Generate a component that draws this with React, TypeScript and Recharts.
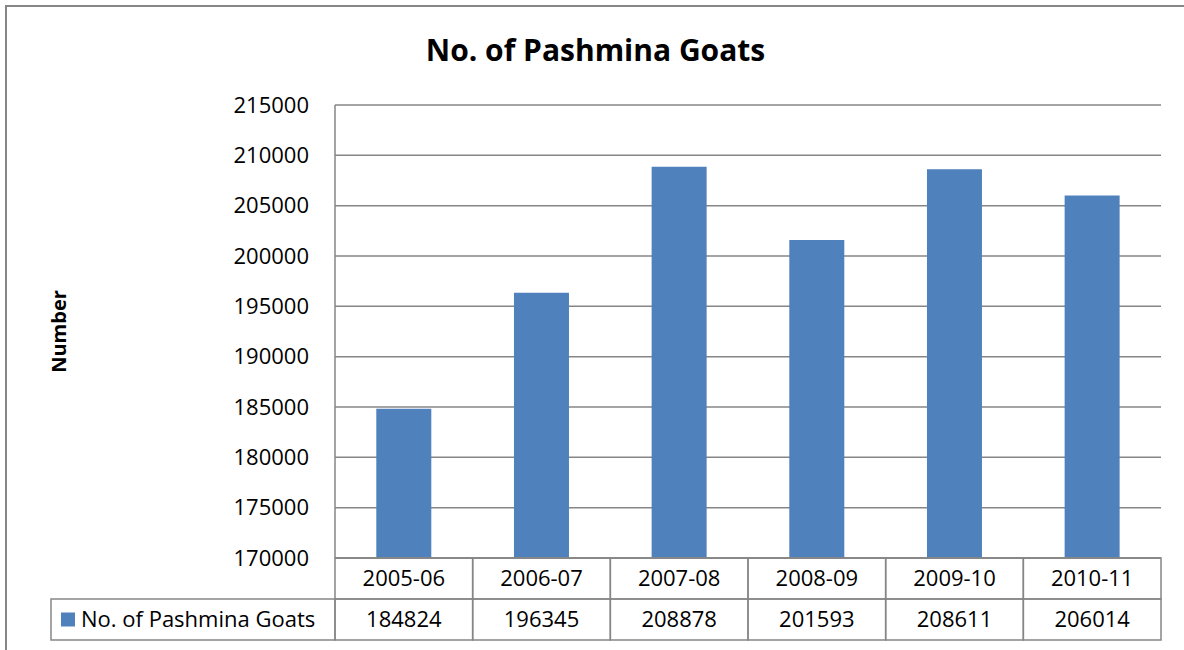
import React from "react";
import {
  BarChart,
  Bar,
  XAxis,
  YAxis,
  CartesianGrid,
} from "recharts";

const categories = ["2005-06", "2006-07", "2007-08", "2008-09", "2009-10", "2010-11"];
const goats = [184824, 196345, 208878, 201593, 208611, 206014];
const yTicks = [170000, 175000, 180000, 185000, 190000, 195000, 200000, 205000, 210000, 215000];
const seriesName = "No. of Pashmina Goats";
const chartTitle = "No. of Pashmina Goats";
const yLabel = "Number";

const data = categories.map((c, i) => ({ period: c, value: goats[i] }));

const FONT = "'Open Sans', 'Liberation Sans', sans-serif";
const BAR = "#4F81BD";
const LINE = "#868686";
const W = 1184;
const H = 650;
const PLOT_LEFT = 335;
const PLOT_RIGHT = 1161;
const ROW = 41;
const LEGEND_LEFT = 51;
const FS = 22;

const bandWidth = (PLOT_RIGHT - PLOT_LEFT) / categories.length;

function TableTick(props: any) {
  const { x, y, payload, index } = props;
  const left = x - bandWidth / 2;
  const value = goats[index];
  return (
    <g>
      <rect x={left} y={y} width={bandWidth} height={ROW} fill="none" stroke={LINE} strokeWidth={1.5} />
      <rect x={left} y={y + ROW} width={bandWidth} height={ROW} fill="none" stroke={LINE} strokeWidth={1.5} />
      <text x={x} y={y + ROW / 2} dy="0.35em" textAnchor="middle" fontSize={FS} fontFamily={FONT} fill="#000">
        {payload.value}
      </text>
      <text x={x} y={y + ROW * 1.5} dy="0.35em" textAnchor="middle" fontSize={FS} fontFamily={FONT} fill="#000">
        {value}
      </text>
      {index === 0 && (
        <g>
          <rect x={LEGEND_LEFT} y={y + ROW} width={left - LEGEND_LEFT} height={ROW} fill="none" stroke={LINE} strokeWidth={1.5} />
          <rect x={LEGEND_LEFT + 10} y={y + ROW * 1.5 - 7} width={14} height={14} fill={BAR} />
          <text x={LEGEND_LEFT + 30} y={y + ROW * 1.5} dy="0.35em" fontSize={FS} fontFamily={FONT} fill="#000">
            {seriesName}
          </text>
        </g>
      )}
    </g>
  );
}

function AxisTitle(props: any) {
  const { viewBox } = props;
  const cx = viewBox.x + 8;
  const cy = viewBox.y + viewBox.height / 2;
  return (
    <text
      x={cx}
      y={cy}
      textAnchor="middle"
      dominantBaseline="central"
      transform={`rotate(-90, ${cx}, ${cy})`}
      fontSize={20}
      fontWeight="bold"
      fontFamily={FONT}
      fill="#000"
    >
      {yLabel}
    </text>
  );
}

export default function App() {
  return (
    <div
      style={{
        position: "absolute",
        left: 0,
        top: 0,
        width: W,
        height: H,
        overflow: "hidden",
        background: "#fff",
      }}
    >
      <div
        style={{
          position: "absolute",
          left: 5,
          top: 5,
          width: W,
          height: H + 20,
          border: `2px solid ${LINE}`,
        }}
      />
      <div
        style={{
          position: "absolute",
          left: 0,
          top: 30,
          width: 1191,
          textAlign: "center",
          fontFamily: FONT,
          fontWeight: "bold",
          fontSize: 30,
          lineHeight: "40px",
          color: "#000",
        }}
      >
        {chartTitle}
      </div>
      <div style={{ position: "absolute", left: 0, top: 0 }}>
        <BarChart
          width={W}
          height={H}
          data={data}
          margin={{ top: 105, right: W - PLOT_RIGHT, bottom: 10, left: LEGEND_LEFT - 1 }}
          barCategoryGap="30%"
        >
          <CartesianGrid vertical={false} stroke={LINE} strokeWidth={1.5} />
          <XAxis
            dataKey="period"
            height={82}
            tickLine={false}
            tickSize={0}
            tickMargin={0}
            axisLine={{ stroke: LINE, strokeWidth: 1.5 }}
            tick={<TableTick />}
            interval={0}
          />
          <YAxis
            width={PLOT_LEFT - LEGEND_LEFT + 1}
            domain={[170000, 215000]}
            ticks={yTicks}
            tickLine={false}
            tickSize={0}
            tickMargin={26}
            axisLine={{ stroke: LINE, strokeWidth: 1.5 }}
            tick={{ fontSize: FS, fontFamily: FONT, fill: "#000" }}
            label={<AxisTitle />}
            allowDataOverflow
          />
          <Bar dataKey="value" fill={BAR} isAnimationActive={false} />
        </BarChart>
      </div>
    </div>
  );
}
